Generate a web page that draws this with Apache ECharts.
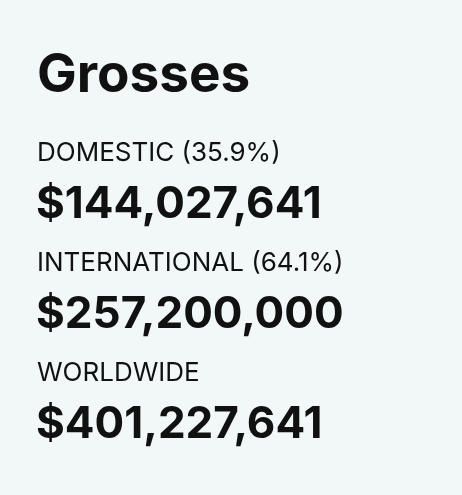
<!DOCTYPE html>
<html><head><meta charset="utf-8">
<script src="https://cdn.jsdelivr.net/npm/echarts@6/dist/echarts.min.js"></script>
<style>html,body{margin:0;padding:0;background:#f2f7f7}#c{width:462px;height:495px}</style>
</head><body><div id="c"></div>
<script>
const title = "Grosses";
const labels = ["DOMESTIC", "INTERNATIONAL", "WORLDWIDE"];
const percents = ["35.9%", "64.1%", null];
const values = ["$144,027,641", "$257,200,000", "$401,227,641"];

const chart = echarts.init(document.getElementById('c'));
const font = "Inter, 'Noto Sans', sans-serif";
const els = [{type:'text', left:37, top:50, style:{text:title, font:"bold 53px "+font, fill:'#111'}}];
labels.forEach((l,i)=>{
  const y0 = 140 + i*110;
  els.push({type:'text', left:37, top:y0, style:{text: l + (percents[i] ? " (" + percents[i] + ")" : ""), font:"26px "+font, fill:'#111'}});
  els.push({type:'text', left:36, top:y0+43, style:{text: values[i], font:"bold 44px "+font, fill:'#111'}});
});
chart.setOption({backgroundColor:'#f2f7f7', graphic: els});
</script></body></html>
